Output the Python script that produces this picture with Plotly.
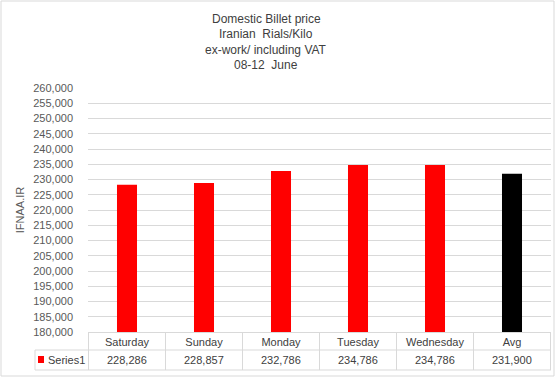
import plotly.graph_objects as go

categories = ["Saturday", "Sunday", "Monday", "Tuesday", "Wednesday", "Avg"]
values = [228286, 228857, 232786, 234786, 234786, 231900]
bar_colors = ["#ff0000", "#ff0000", "#ff0000", "#ff0000", "#ff0000", "#000000"]
series_name = "Series1"
title_lines = ["Domestic Billet price", "Iranian  Rials/Kilo", "ex-work/ including VAT", "08-12  June"]

W, H = 556, 378
ML, MR, MT, MB = 88, 5, 88, 46
PW, PH = W - ML - MR, H - MT - MB

def px_x(px):
    return (px - ML) / PW

def px_y(py):
    return (H - MB - py) / PH

grid = "#d9d9d9"
font = "Liberation Sans"

fig = go.Figure()
fig.add_trace(go.Bar(x=categories, y=values, marker=dict(color=bar_colors, line=dict(width=0)),
                     name=series_name, showlegend=False, hoverinfo="skip"))

shapes = []
for py, x0 in [(350, 35), (370, 35)]:
    shapes.append(dict(type="line", xref="paper", yref="paper", x0=px_x(x0), x1=1,
                       y0=px_y(py), y1=px_y(py), line=dict(color=grid, width=1)))
shapes.append(dict(type="line", xref="paper", yref="paper", x0=px_x(35), x1=px_x(35),
                   y0=px_y(350), y1=px_y(370), line=dict(color=grid, width=1)))
for k in range(len(categories) + 1):
    shapes.append(dict(type="line", xref="x", yref="paper", x0=k - 0.5, x1=k - 0.5,
                       y0=0, y1=px_y(370), line=dict(color=grid, width=1)))
shapes.append(dict(type="rect", xref="paper", yref="paper", x0=px_x(1), x1=px_x(554),
                   y0=px_y(1), y1=px_y(376), line=dict(color=grid, width=1)))
shapes.append(dict(type="rect", xref="paper", yref="paper", x0=px_x(38), x1=px_x(44),
                   y0=px_y(356), y1=px_y(363), fillcolor="#ff0000", line=dict(width=0)))

annotations = []
for c, v in zip(categories, values):
    annotations.append(dict(x=c, xref="x", y=px_y(360), yref="paper", yanchor="middle",
                            text=f"{v:,}", showarrow=False,
                            font=dict(family=font, size=11, color="#404040")))
annotations.append(dict(x=px_x(46), xref="paper", y=px_y(360), yref="paper", yanchor="middle",
                        text=series_name, xanchor="left", showarrow=False,
                        font=dict(family=font, size=11, color="#404040")))
for i, line in enumerate(title_lines):
    annotations.append(dict(x=px_x(266), xref="paper", xanchor="center",
                            y=px_y(19 + 15.3 * i), yref="paper", yanchor="middle",
                            text=line, showarrow=False, font=dict(family=font, size=12, color="#404040")))

fig.update_layout(
    width=W, height=H,
    margin=dict(l=ML, r=MR, t=MT, b=MB),
    paper_bgcolor="white", plot_bgcolor="white",
    bargap=0.74,
    shapes=shapes, annotations=annotations,
    font=dict(family=font, size=11, color="#595959"),
    xaxis=dict(showgrid=False, showline=True, linecolor=grid, ticks="",
               tickfont=dict(family=font, size=11, color="#404040")),
    yaxis=dict(range=[180000, 260000], dtick=5000, tickformat=",", showgrid=True, gridcolor=grid,
               zeroline=False, showline=False, ticks="", ticklabelstandoff=14,
               tickfont=dict(family=font, size=11, color="#595959"),
               title=dict(text="IFNAA.IR", standoff=6, font=dict(family=font, size=11, color="#595959"))),
)

fig.write_html("out.html", config={"displayModeBar": False},
               post_script="document.body.style.margin='0';document.body.style.overflow='hidden';")
